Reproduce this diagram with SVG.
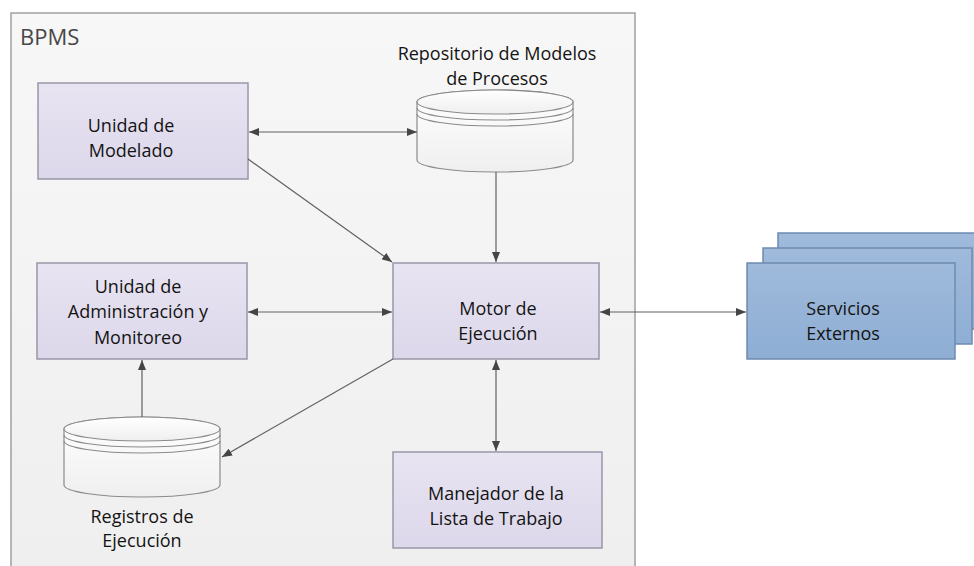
<svg xmlns="http://www.w3.org/2000/svg" width="974" height="566" viewBox="0 0 974 566">
<defs>
<linearGradient id="gBg" x1="0" y1="0" x2="0" y2="1"><stop offset="0" stop-color="#f7f7f7"/><stop offset="1" stop-color="#efefef"/></linearGradient>
<linearGradient id="gBox" x1="0" y1="0" x2="0" y2="1"><stop offset="0" stop-color="#e8e4f2"/><stop offset="1" stop-color="#dcd7ea"/></linearGradient>
<linearGradient id="gSvc" x1="0" y1="0" x2="0" y2="1"><stop offset="0" stop-color="#9fbadb"/><stop offset="1" stop-color="#8eaed4"/></linearGradient>
<linearGradient id="gCyl" x1="0" y1="0" x2="0" y2="1"><stop offset="0" stop-color="#ffffff"/><stop offset="1" stop-color="#efefef"/></linearGradient>
<marker id="ah" viewBox="0 0 10 8" refX="10" refY="4" markerWidth="10" markerHeight="8" markerUnits="userSpaceOnUse" orient="auto-start-reverse"><path d="M0,0 L10,4 L0,8 z" fill="#454545"/></marker>
</defs>
<style>
.t{font-family:"Open Sans","Liberation Sans",sans-serif;font-size:18px;fill:#141414;text-anchor:middle}
.box{fill:url(#gBox);stroke:#9996a6;stroke-width:1.5}
.svc{fill:url(#gSvc);stroke:#6e8bb0;stroke-width:1.5}
.cyl{fill:url(#gCyl);stroke:#8a8a8a;stroke-width:1.2}
.ring{fill:none;stroke:#8a8a8a;stroke-width:1.2}
.c{stroke:#606060;stroke-width:1.2;fill:none}
</style>
<rect x="0" y="0" width="974" height="566" fill="#ffffff"/>
<g id="bpms">
<rect x="11" y="13" width="624" height="560" fill="url(#gBg)" stroke="#a0a0a0" stroke-width="1.5"/>
<text x="20" y="45" style="font-family:'Open Sans','Liberation Sans',sans-serif;font-size:22px;fill:#474747">BPMS</text>
</g>
<g id="modelado">
<rect class="box" x="38" y="83" width="210" height="96"/>
<text class="t" x="131" y="132">Unidad de</text>
<text class="t" x="131" y="157">Modelado</text>
</g>
<g id="repositorio">
<path class="cyl" d="M417,102 L417,160 A78,12 0 0 0 573,160 L573,102 A78,12 0 0 0 417,102 z"/>
<ellipse class="cyl" cx="495" cy="102" rx="78" ry="12"/>
<path class="ring" d="M417,108 A78,12 0 0 0 573,108 M417,114 A78,12 0 0 0 573,114"/>
<text class="t" x="497" y="60">Repositorio de Modelos</text>
<text class="t" x="497" y="85">de Procesos</text>
</g>
<g id="admin">
<rect class="box" x="37" y="263" width="210" height="96"/>
<text class="t" x="138" y="293">Unidad de</text>
<text class="t" x="138" y="318">Administración y</text>
<text class="t" x="138" y="344">Monitoreo</text>
</g>
<g id="motor">
<rect class="box" x="393" y="263" width="206" height="96"/>
<text class="t" x="498" y="315">Motor de</text>
<text class="t" x="498" y="340">Ejecución</text>
</g>
<g id="registros">
<path class="cyl" d="M64,429 L64,485 A78,12 0 0 0 220,485 L220,429 A78,12 0 0 0 64,429 z"/>
<ellipse class="cyl" cx="142" cy="429" rx="78" ry="12"/>
<path class="ring" d="M64,435 A78,12 0 0 0 220,435 M64,441 A78,12 0 0 0 220,441"/>
<text class="t" x="142" y="523">Registros de</text>
<text class="t" x="142" y="547">Ejecución</text>
</g>
<g id="manejador">
<rect class="box" x="393" y="452" width="209" height="96"/>
<text class="t" x="496" y="500">Manejador de la</text>
<text class="t" x="496" y="525">Lista de Trabajo</text>
</g>
<g id="servicios">
<rect class="svc" x="778" y="233" width="210" height="96"/>
<rect class="svc" x="763" y="248" width="209" height="96"/>
<rect class="svc" x="747" y="263" width="208" height="96"/>
<text class="t" x="843" y="315">Servicios</text>
<text class="t" x="843" y="340">Externos</text>
</g>
<g id="connectors">
<line class="c" x1="249" y1="132" x2="417" y2="132" marker-start="url(#ah)" marker-end="url(#ah)"/>
<line class="c" x1="496" y1="172" x2="496" y2="262" marker-end="url(#ah)"/>
<line class="c" x1="248" y1="159" x2="392" y2="262" marker-end="url(#ah)"/>
<line class="c" x1="248" y1="312" x2="392" y2="312" marker-start="url(#ah)" marker-end="url(#ah)"/>
<line class="c" x1="496" y1="360" x2="496" y2="451" marker-start="url(#ah)" marker-end="url(#ah)"/>
<line class="c" x1="393" y1="359" x2="222" y2="457" marker-end="url(#ah)"/>
<line class="c" x1="142" y1="417" x2="142" y2="360" marker-end="url(#ah)"/>
<line class="c" x1="600" y1="312" x2="746" y2="312" marker-start="url(#ah)" marker-end="url(#ah)"/>
</g>
</svg>
